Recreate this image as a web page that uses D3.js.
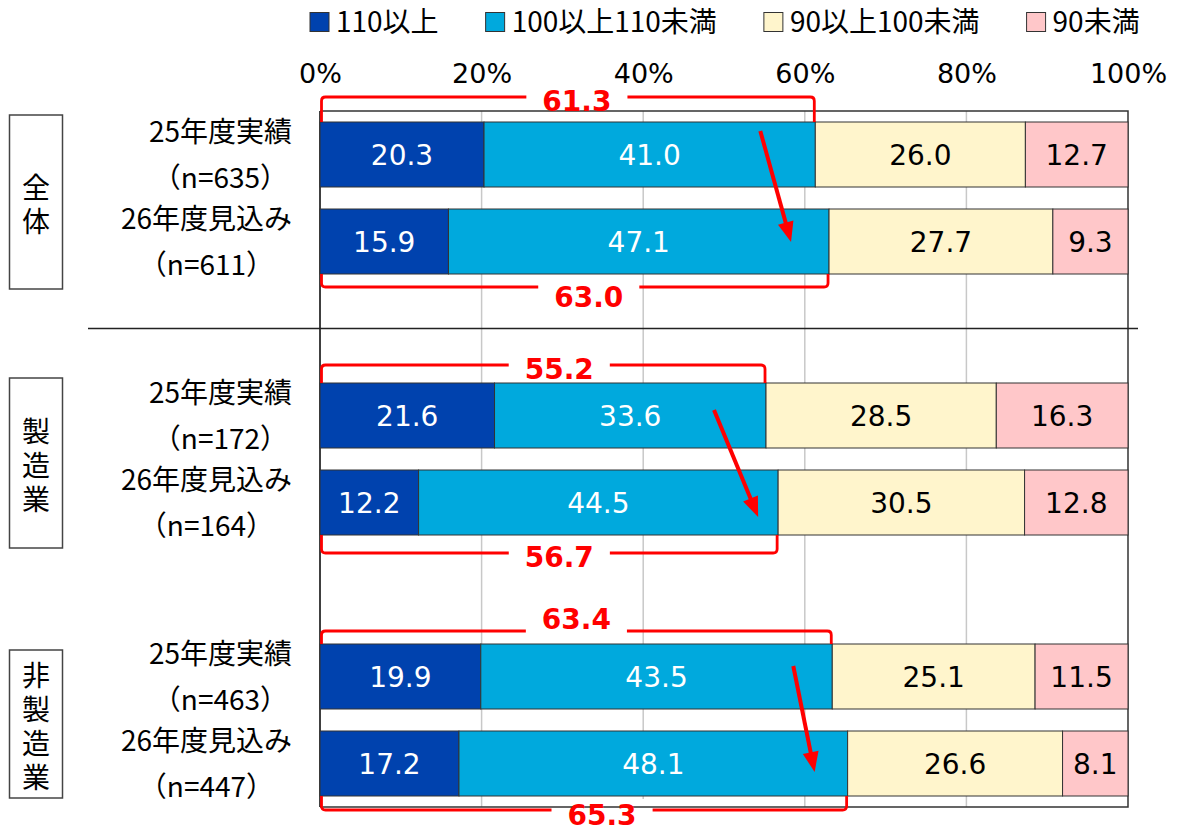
<!DOCTYPE html>
<html>
<head>
<meta charset="utf-8">
<script src="https://cdn.jsdelivr.net/npm/d3@7"></script>
<style>
  body { margin: 0; background: #fff; }
  svg { display: block; }
</style>
</head>
<body>
<svg id="chart" width="1178" height="836"></svg>
<script>
// ---- data ----
const groups = ["全体", "製造業", "非製造業"];
const categories = ["25年度実績", "26年度見込み"];
const sampleSizes = [[635, 611], [172, 164], [463, 447]];
const seriesNames = ["110以上", "100以上110未満", "90以上100未満", "90未満"];
// one value per bar, in order: 全体 25/26, 製造業 25/26, 非製造業 25/26
const s110 = [20.3, 15.9, 21.6, 12.2, 19.9, 17.2];
const s100to110 = [41.0, 47.1, 33.6, 44.5, 43.5, 48.1];
const s90to100 = [26.0, 27.7, 28.5, 30.5, 25.1, 26.6];
const sUnder90 = [12.7, 9.3, 16.3, 12.8, 11.5, 8.1];
// share of "100 or more" per group: [25年度, 26年度]
const over100Totals = [[61.3, 63.0], [55.2, 56.7], [63.4, 65.3]];
const tickValues = [0, 20, 40, 60, 80, 100];

// ---- styling / layout ----
const colors = ["#0042AE", "#00A9DD", "#FFF5CC", "#FFC7C9"];
const valueText = ["#fff", "#fff", "#000", "#000"];
const red = "#FF0000";
const numFont = "'DejaVu Sans', Verdana, sans-serif";
const jpFont = "'Noto Sans CJK JP', 'Noto Sans', sans-serif";
const layout = {
  topGap: [25, 18, 13], bottomGap: [13, 18, 14],
  topDy: [4, 4, -12], bottomDy: [10, 4, 5],
  labelDx: [[9, 14], [16, 10], [0, 18]],
  arrows: [
    { sx: -55, sy: 9, ex: -38, ey: -32 },
    { sx: -52, sy: 27, ex: -20, ey: -18 },
    { sx: -39, sy: 22, ex: -33, ey: -24 }
  ],
  boxH: [174, 170, 148]
};

const svg = d3.select("#chart");

// rows: two bars per group, followed by a spacer slot
const slots = [];
groups.forEach((g, gi) => {
  categories.forEach((c, ci) => slots.push(`${gi}-${ci}`));
  slots.push(`${gi}-gap`);
});

const x = d3.scaleLinear().domain([0, 100]).range([320, 1128]);
const y = d3.scaleBand().domain(slots).range([111, 894])
  .paddingInner(22 / 87).paddingOuter(11 / 87);
const bw = y.bandwidth();
const outer = y.step() * y.paddingOuter();

const table = [];
groups.forEach((g, gi) => categories.forEach((c, ci) => {
  const i = gi * 2 + ci;
  table.push({ key: `${gi}-${ci}`, gi, ci,
    v0: s110[i], v1: s100to110[i], v2: s90to100[i], v3: sUnder90[i] });
}));
const stacked = d3.stack().keys(["v0", "v1", "v2", "v3"])(table);

const frameTop = y("0-0") - outer;
const frameBottom = y("2-1") + bw + outer;

// layers
const gridLayer = svg.append("g");
const maskLayer = svg.append("g");
const frameLayer = svg.append("g");
const barLayer = svg.append("g");
const labelLayer = svg.append("g");
const annoLayer = svg.append("g");

// gridlines
gridLayer.selectAll("line").data(tickValues.filter(t => t > 0 && t < 100)).join("line")
  .attr("x1", d => x(d)).attr("x2", d => x(d))
  .attr("y1", frameTop).attr("y2", frameBottom)
  .attr("stroke", "#c8c8c8").attr("stroke-width", 1.5);

// plot frame
frameLayer.append("path")
  .attr("d", `M${x(0)},${frameTop}H${x(100)}V${frameBottom}H${x(0)}`)
  .attr("fill", "none").attr("stroke", "#333").attr("stroke-width", 1.5);
frameLayer.append("line")
  .attr("x1", x(0)).attr("x2", x(0)).attr("y1", frameTop).attr("y2", frameBottom)
  .attr("stroke", "#000").attr("stroke-width", 1.5);

// separator between 全体 and the industry breakdown
const sepY = (y("0-1") + bw + y("1-0")) / 2;
frameLayer.append("line")
  .attr("x1", 88).attr("x2", 1138).attr("y1", sepY).attr("y2", sepY)
  .attr("stroke", "#222").attr("stroke-width", 1.5);

// percentage axis
const axis = d3.axisTop(x).tickValues(tickValues).tickFormat(d => d + "%").tickSize(0);
const axisG = svg.append("g").attr("transform", "translate(0,73)").call(axis);
axisG.select(".domain").remove();
axisG.selectAll("text")
  .attr("y", 0).attr("dy", "0.36em")
  .attr("font-family", numFont).attr("font-size", 27).attr("fill", "#000");

// stacked bars
stacked.forEach((layer, si) => {
  const g = barLayer.append("g");
  g.selectAll("rect").data(layer).join("rect")
    .attr("x", d => x(d[0]))
    .attr("y", d => y(d.data.key))
    .attr("width", d => x(d[1]) - x(d[0]))
    .attr("height", bw)
    .attr("fill", colors[si])
    .attr("stroke", "#333").attr("stroke-width", 1);
  g.selectAll("text").data(layer).join("text")
    .attr("x", d => (x(d[0]) + x(d[1])) / 2)
    .attr("y", d => y(d.data.key) + bw / 2)
    .attr("dy", "0.36em")
    .attr("text-anchor", "middle")
    .attr("font-family", numFont).attr("font-size", 28)
    .attr("fill", valueText[si])
    .text(d => (d[1] - d[0]).toFixed(1));
});

// legend
let lx = 310;
seriesNames.forEach((name, i) => {
  labelLayer.append("rect")
    .attr("x", lx).attr("y", 12.5).attr("width", 19).attr("height", 19)
    .attr("fill", colors[i]).attr("stroke", "#333").attr("stroke-width", 1);
  const t = labelLayer.append("text")
    .attr("x", lx + 26).attr("y", 22).attr("dy", "0.36em")
    .attr("font-family", jpFont).attr("font-size", 28).attr("fill", "#000")
    .text(name);
  lx += 26 + t.node().getComputedTextLength() + 47;
});

// category labels (two centred lines, block right-aligned)
table.forEach(r => {
  const cy = y(r.key) + bw / 2;
  const lines = [categories[r.ci], `（n=${sampleSizes[r.gi][r.ci]}）`];
  const texts = lines.map((s, k) => labelLayer.append("text")
    .attr("y", cy + (k === 0 ? -23 : 23)).attr("dy", "0.36em")
    .attr("text-anchor", "middle")
    .attr("font-family", jpFont).attr("font-size", 28).attr("fill", "#000")
    .text(s));
  const wMax = d3.max(texts, t => t.node().getComputedTextLength());
  texts.forEach(t => t.attr("x", 292 - wMax / 2));
});

// group boxes with vertical titles
groups.forEach((g, gi) => {
  const cy = (y(`${gi}-0`) + y(`${gi}-1`) + bw) / 2 + 4;
  const h = layout.boxH[gi];
  labelLayer.append("rect")
    .attr("x", 9.5).attr("y", cy - h / 2).attr("width", 53).attr("height", h)
    .attr("fill", "#fff").attr("stroke", "#444").attr("stroke-width", 1.5);
  labelLayer.append("text")
    .attr("x", 36).attr("y", cy + 5)
    .attr("writing-mode", "vertical-rl")
    .attr("text-anchor", "middle")
    .attr("letter-spacing", 6)
    .attr("font-family", jpFont).attr("font-size", 28).attr("fill", "#000")
    .text(g);
});

// brackets showing the "100 or more" share, plus change arrows
const r = 4;
groups.forEach((g, gi) => {
  [0, 1].forEach(ci => {
    const total = over100Totals[gi][ci];
    const barY = ci === 0 ? y(`${gi}-0`) : y(`${gi}-1`) + bw;
    const lineY = ci === 0 ? barY - layout.topGap[gi] : barY + layout.bottomGap[gi];
    const dir = ci === 0 ? 1 : -1; // direction from line toward bar
    const xL = x(0) + 1.5, xR = x(total) - 1;
    const tx = (xL + xR) / 2 + layout.labelDx[gi][ci];
    const ty = lineY + (ci === 0 ? layout.topDy[gi] : layout.bottomDy[gi]);
    const label = annoLayer.append("text")
      .attr("x", tx).attr("y", ty).attr("dy", "0.36em")
      .attr("text-anchor", "middle")
      .attr("font-family", numFont).attr("font-weight", "bold")
      .attr("font-size", 28).attr("fill", red)
      .text(total.toFixed(1));
    const w = label.node().getComputedTextLength();
    const gapL = tx - w / 2 - 16, gapR = tx + w / 2 + 16;
    maskLayer.append("rect")
      .attr("x", gapL).attr("y", ty - 16).attr("width", gapR - gapL).attr("height", 32)
      .attr("fill", "#fff");
    const p = d3.path();
    p.moveTo(xL, barY);
    p.lineTo(xL, lineY + dir * r);
    p.quadraticCurveTo(xL, lineY, xL + r, lineY);
    p.lineTo(gapL, lineY);
    p.moveTo(gapR, lineY);
    p.lineTo(xR - r, lineY);
    p.quadraticCurveTo(xR, lineY, xR, lineY + dir * r);
    p.lineTo(xR, barY);
    annoLayer.insert("path", "text")
      .attr("d", p.toString())
      .attr("fill", "none").attr("stroke", red).attr("stroke-width", 2.8)
      .attr("stroke-linejoin", "round");
  });

  // arrow from the 25年度 bar to the 26年度 bar
  const a = layout.arrows[gi];
  const x0 = x(over100Totals[gi][0]) + a.sx, y0 = y(`${gi}-0`) + a.sy;
  const x1 = x(over100Totals[gi][1]) + a.ex, y1 = y(`${gi}-1`) + bw + a.ey;
  const len = Math.hypot(x1 - x0, y1 - y0);
  const ux = (x1 - x0) / len, uy = (y1 - y0) / len;
  const headL = 20, headW = 8;
  const bx = x1 - ux * headL, by = y1 - uy * headL;
  annoLayer.append("line")
    .attr("x1", x0).attr("y1", y0).attr("x2", bx + ux * 2).attr("y2", by + uy * 2)
    .attr("stroke", red).attr("stroke-width", 4);
  annoLayer.append("path")
    .attr("d", `M${x1},${y1}L${bx - uy * headW},${by + ux * headW}L${bx + uy * headW},${by - ux * headW}Z`)
    .attr("fill", red);
});
</script>
</body>
</html>
